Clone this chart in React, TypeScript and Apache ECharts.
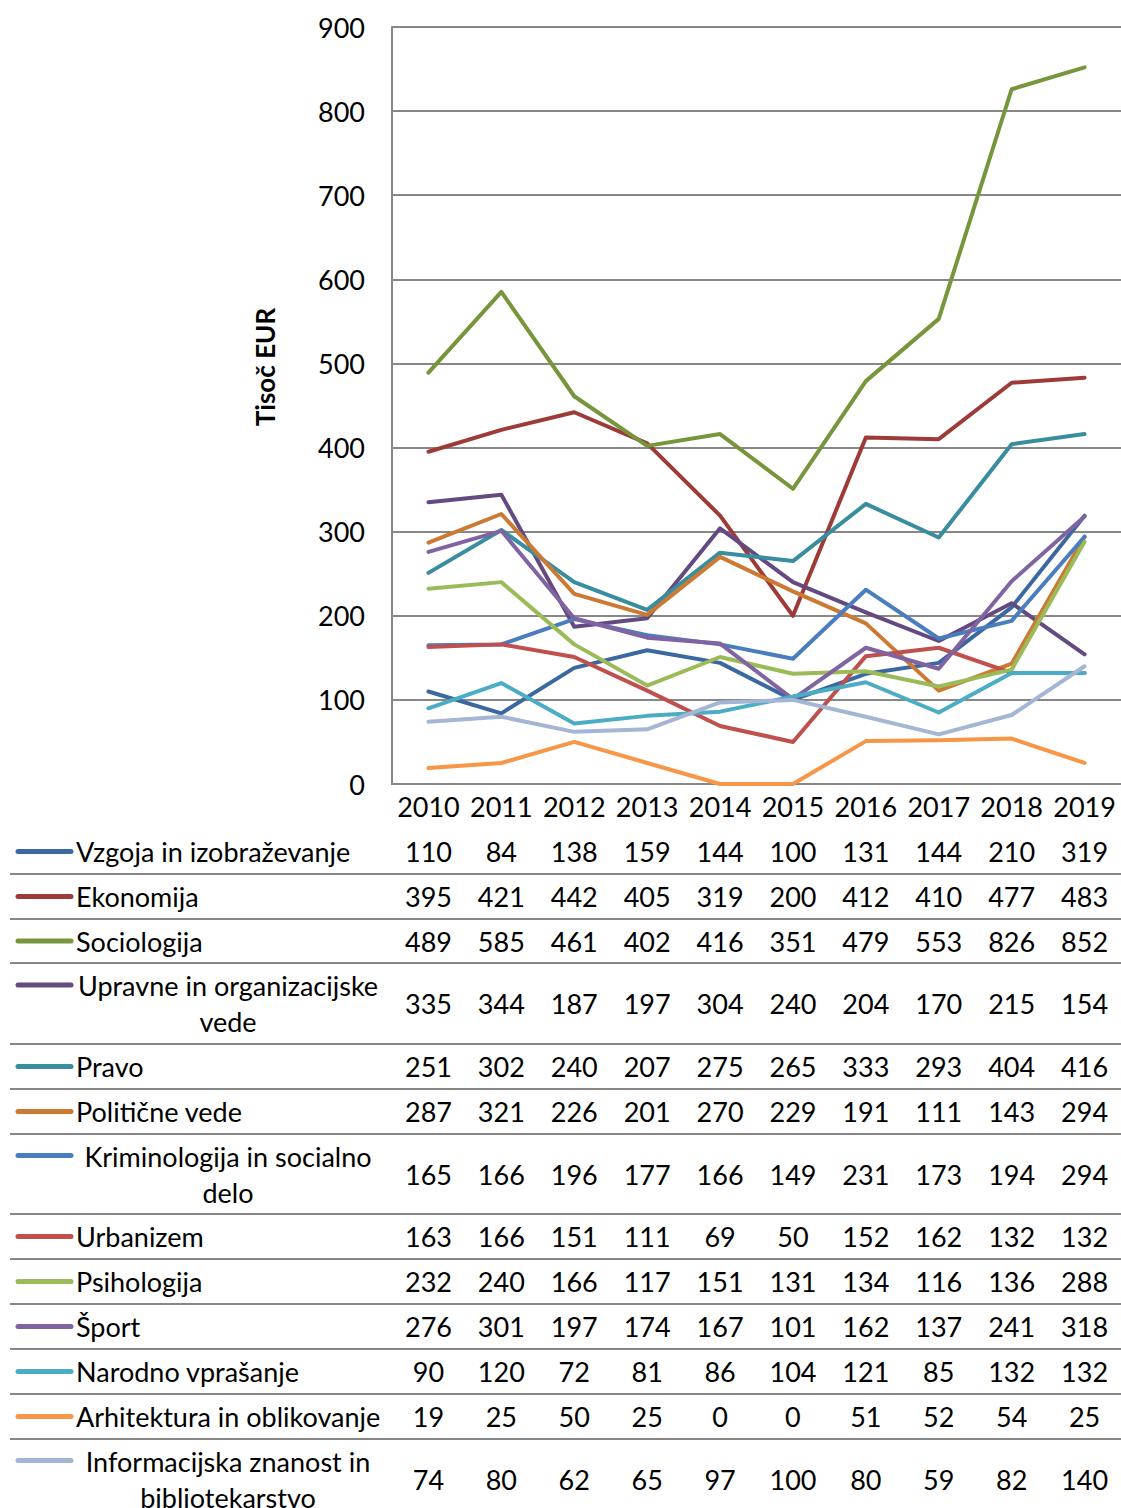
import React, { useEffect, useRef } from "react";
import * as echarts from "echarts";

const years = ["2010", "2011", "2012", "2013", "2014", "2015", "2016", "2017", "2018", "2019"];
const yTicks = { min: 0, max: 900, interval: 100 };

const seriesLabels = [
  "Vzgoja in izobraževanje",
  "Ekonomija",
  "Sociologija",
  "Upravne in organizacijske\nvede",
  "Pravo",
  "Politične vede",
  "Kriminologija in socialno\ndelo",
  "Urbanizem",
  "Psihologija",
  "Šport",
  "Narodno vprašanje",
  "Arhitektura in oblikovanje",
  "Informacijska znanost in\nbibliotekarstvo",
];

const vzgoja = [110, 84, 138, 159, 144, 100, 131, 144, 210, 319];
const ekonomija = [395, 421, 442, 405, 319, 200, 412, 410, 477, 483];
const sociologija = [489, 585, 461, 402, 416, 351, 479, 553, 826, 852];
const upravne = [335, 344, 187, 197, 304, 240, 204, 170, 215, 154];
const pravo = [251, 302, 240, 207, 275, 265, 333, 293, 404, 416];
const politicne = [287, 321, 226, 201, 270, 229, 191, 111, 143, 294];
const kriminologija = [165, 166, 196, 177, 166, 149, 231, 173, 194, 294];
const urbanizem = [163, 166, 151, 111, 69, 50, 152, 162, 132, 132];
const psihologija = [232, 240, 166, 117, 151, 131, 134, 116, 136, 288];
const sport = [276, 301, 197, 174, 167, 101, 162, 137, 241, 318];
const narodno = [90, 120, 72, 81, 86, 104, 121, 85, 132, 132];
const arhitektura = [19, 25, 50, 25, 0, 0, 51, 52, 54, 25];
const informacijska = [74, 80, 62, 65, 97, 100, 80, 59, 82, 140];

const seriesData = [
  vzgoja, ekonomija, sociologija, upravne, pravo, politicne, kriminologija,
  urbanizem, psihologija, sport, narodno, arhitektura, informacijska,
];

const colors = [
  "#3C68A0", "#9D3B38", "#77953B", "#634A80", "#388D9E", "#CC7A33", "#4A7DBD",
  "#C0504D", "#9BBB59", "#8064A2", "#4BACC6", "#F79646", "#A5B6D5",
];

// layout
const GRID_LEFT = 392;
const GRID_TOP = 27;
const GRID_BOTTOM_Y = 784;
const GRID_WIDTH = 729;
const FONT = "Lato, 'Open Sans', sans-serif";
const FS = 27;
const rowTops = [829, 874, 919, 963, 1044, 1089, 1134, 1214, 1259, 1304, 1349, 1394, 1439];
const rowBottoms = [874, 919, 963, 1044, 1089, 1134, 1214, 1259, 1304, 1349, 1394, 1439, 1519];
const GRAY = "#878787";

export default function App() {
  const ref = useRef<HTMLDivElement>(null);
  useEffect(() => {
    if (!ref.current) return;
    const chart = echarts.init(ref.current, null, { renderer: "svg" });

    const tableAxes = seriesData.map((vals, k) => {
      const center = (rowTops[k] + rowBottoms[k]) / 2;
      return {
        type: "category",
        gridIndex: 0,
        position: "bottom",
        data: years,
        boundaryGap: true,
        axisLine: { show: false },
        axisTick: { show: false },
        splitLine: { show: false },
        axisLabel: {
          interval: 0,
          margin: center - GRID_BOTTOM_Y,
          verticalAlign: "middle",
          color: "#000",
          fontFamily: FONT,
          fontSize: FS,
          formatter: (_v: string, i: number) => String(vals[i]),
        },
      };
    });

    const graphics: any[] = [];
    // table horizontal lines
    rowBottoms.slice(0, -1).forEach((y) => {
      graphics.push({
        type: "line",
        shape: { x1: 10, y1: y, x2: 1121, y2: y },
        style: { stroke: GRAY, lineWidth: 2 },
        silent: true,
      });
    });
    // legend keys and labels
    seriesLabels.forEach((lab, k) => {
      const twoLine = lab.includes("\n");
      const center = (rowTops[k] + rowBottoms[k]) / 2;
      const keyY = twoLine ? center - 18.5 : center;
      graphics.push({
        type: "line",
        shape: { x1: 18, y1: keyY, x2: 71, y2: keyY },
        style: { stroke: colors[k], lineWidth: 5, lineCap: "round" },
        silent: true,
      });
      graphics.push({
        type: "text",
        x: twoLine ? 228 : 76,
        y: center,
        style: {
          text: lab,
          fill: "#000",
          fontFamily: FONT,
          fontSize: FS,
          align: twoLine ? "center" : "left",
          verticalAlign: "middle",
          lineHeight: 36,
        },
        silent: true,
      });
    });
    // y axis title
    graphics.push({
      type: "text",
      x: 265,
      y: 367,
      rotation: Math.PI / 2,
      style: {
        text: "Tisoč EUR",
        fill: "#000",
        fontFamily: FONT,
        fontSize: 26,
        fontWeight: "bold",
        align: "center",
        verticalAlign: "middle",
      },
      silent: true,
    });

    chart.setOption({
      animation: false,
      grid: { left: GRID_LEFT, top: GRID_TOP, width: GRID_WIDTH, height: GRID_BOTTOM_Y - GRID_TOP },
      xAxis: [
        {
          type: "category",
          gridIndex: 0,
          position: "bottom",
          data: years,
          boundaryGap: true,
          axisLine: { show: true, lineStyle: { color: GRAY, width: 2 } },
          axisTick: { show: false },
          splitLine: { show: false },
          axisLabel: {
            interval: 0,
            margin: 22,
            verticalAlign: "middle",
            color: "#000",
            fontFamily: FONT,
            fontSize: FS,
          },
        },
        ...tableAxes,
      ],
      yAxis: {
        type: "value",
        min: yTicks.min,
        max: yTicks.max,
        interval: yTicks.interval,
        axisLine: { show: true, lineStyle: { color: GRAY, width: 2 } },
        axisTick: { show: false },
        splitLine: { show: true, lineStyle: { color: GRAY, width: 2 } },
        axisLabel: { margin: 27, color: "#000", fontFamily: FONT, fontSize: FS },
      },
      series: seriesData.map((d, k) => ({
        type: "line",
        name: seriesLabels[k].replace("\n", " "),
        data: d,
        xAxisIndex: 0,
        showSymbol: false,
        symbol: "none",
        lineStyle: { color: colors[k], width: 4, cap: "round", join: "round" },
        itemStyle: { color: colors[k] },
      })),
      graphic: graphics,
    });

    return () => chart.dispose();
  }, []);

  return (
    <div
      ref={ref}
      style={{ position: "fixed", left: 0, top: 0, width: 1121, height: 1508, background: "#fff" }}
    />
  );
}
